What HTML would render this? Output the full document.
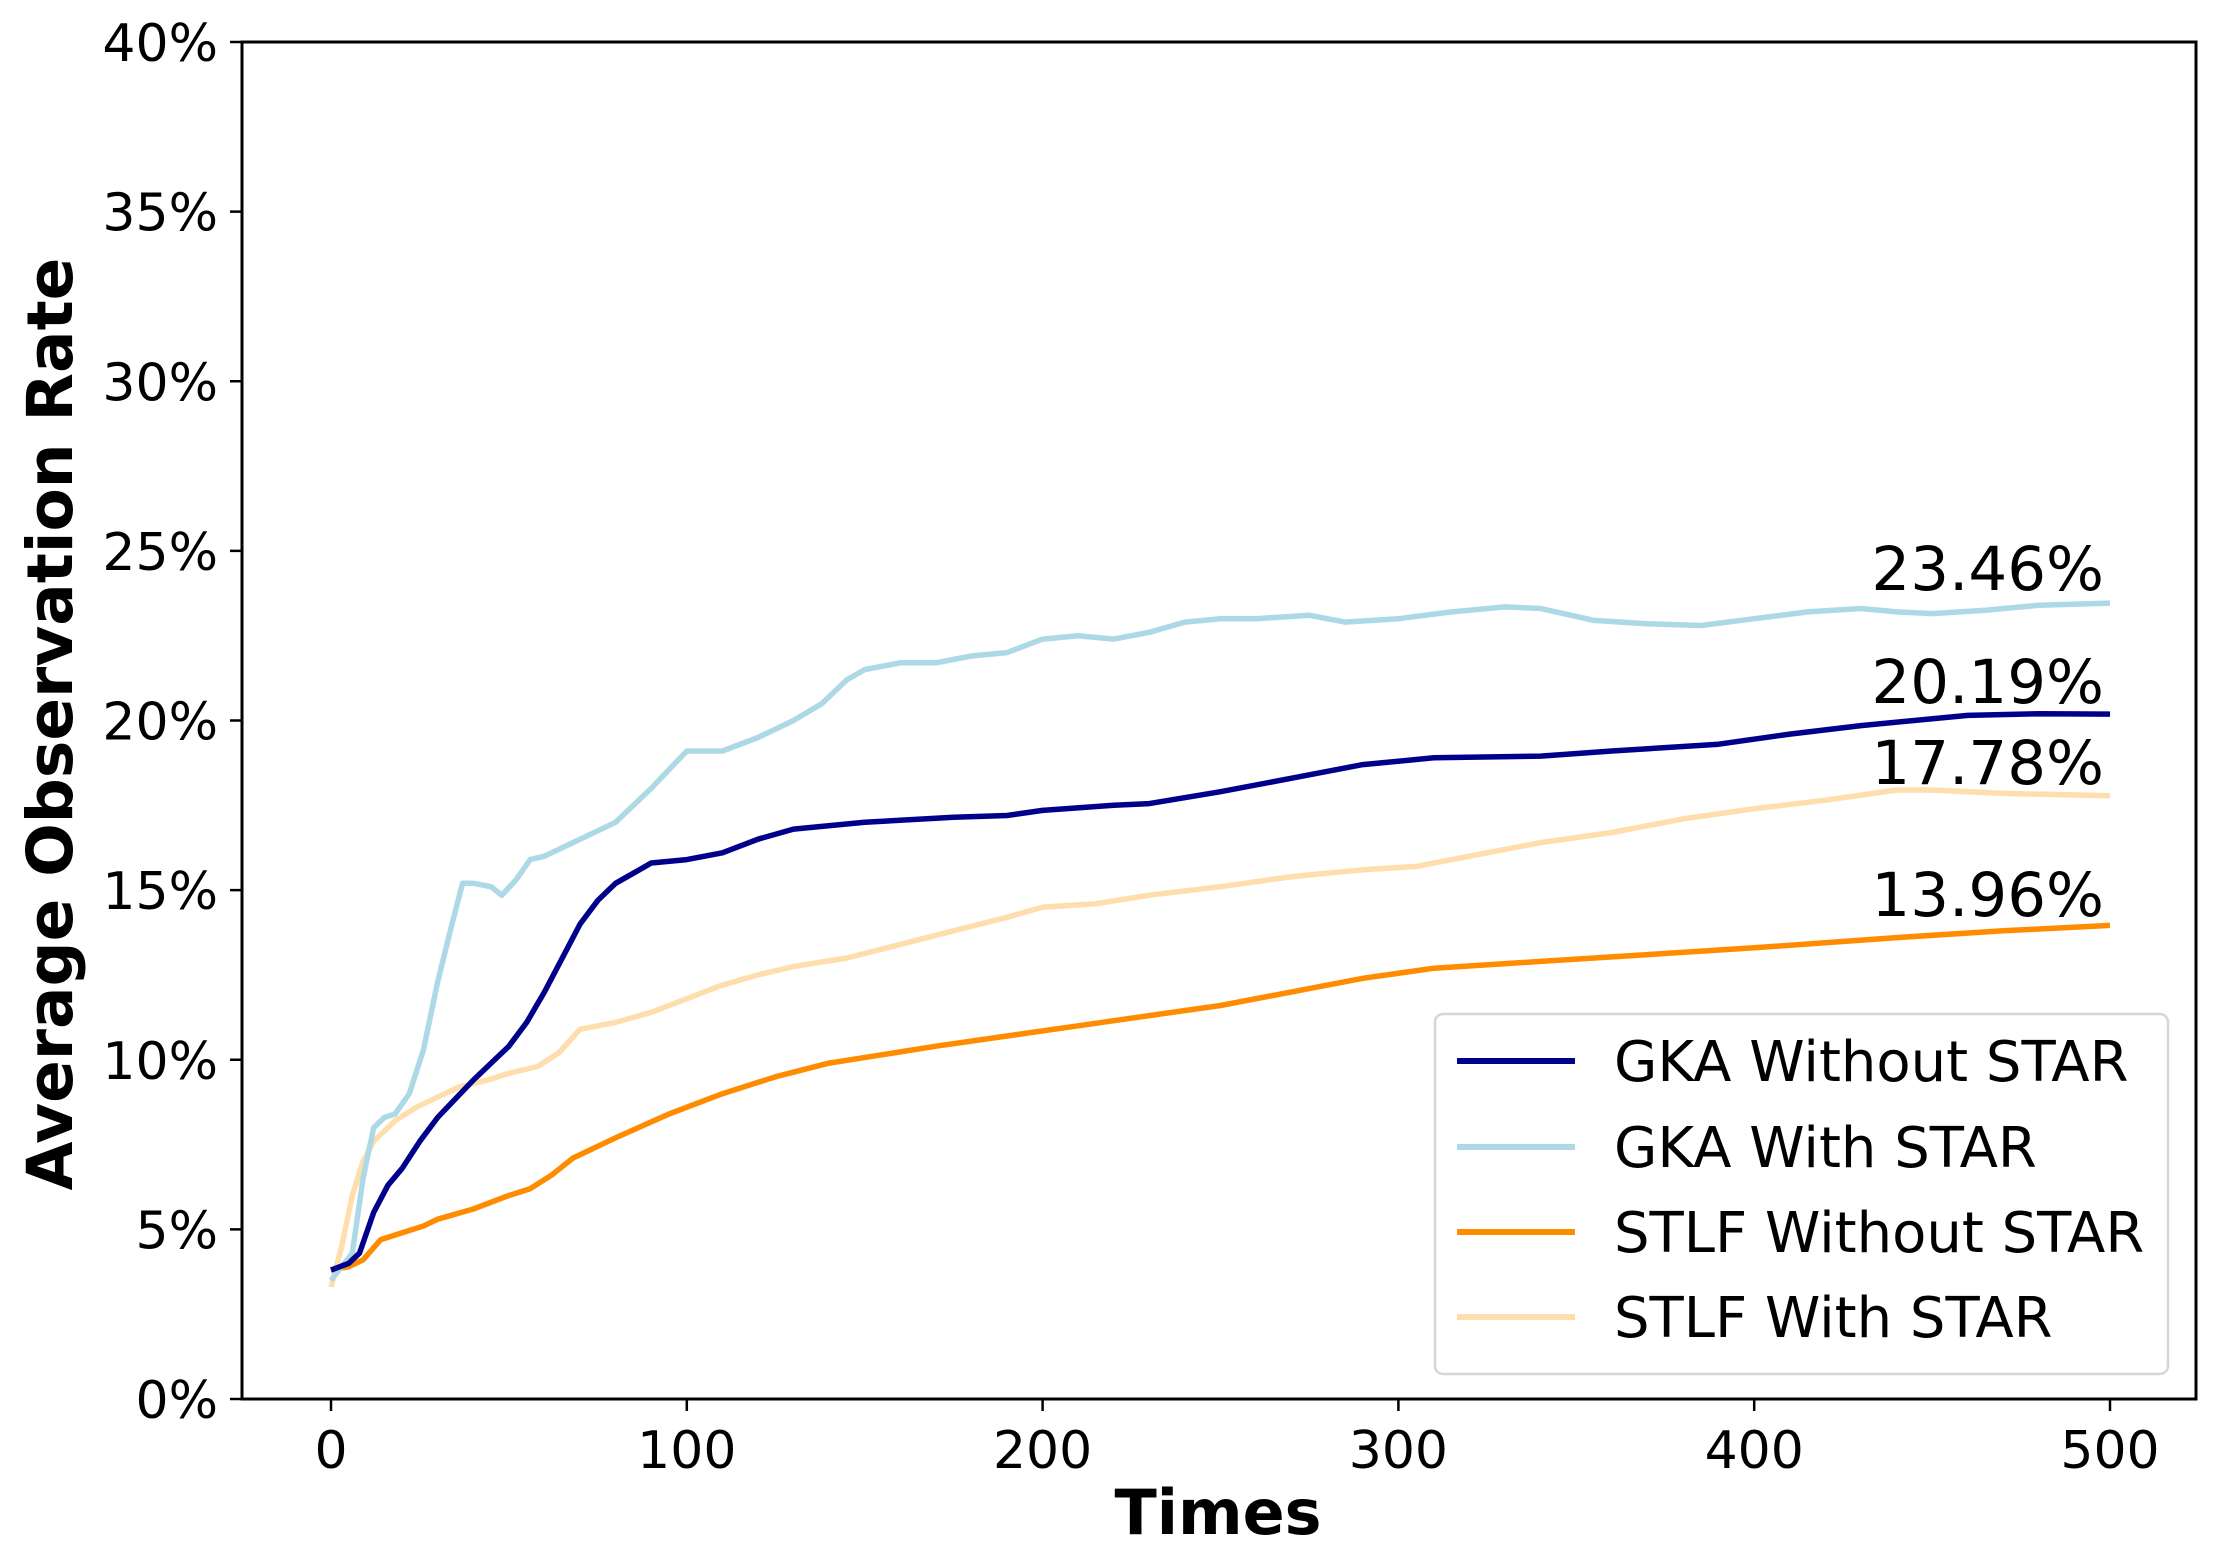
<!DOCTYPE html>
<html><head><meta charset="utf-8"><style>
html,body{margin:0;padding:0;background:#fff;}
svg{display:block;font-family:"DejaVu Sans","Liberation Sans",sans-serif;}
</style></head><body>
<svg id="chart" width="2237" height="1563" viewBox="0 0 2237 1563">
<rect x="0" y="0" width="2237" height="1563" fill="#fff"/>
<g id="plot"></g>
</svg>
<script>
const gkaWithoutX=[0,5,8,12,16,20,25,30,40,50,55,60,65,70,75,80,85,90,100,110,120,130,150,175,190,200,220,230,250,270,290,310,340,360,390,410,430,460,480,500];
const gkaWithoutY=[3.8,4.0,4.3,5.5,6.3,6.8,7.6,8.3,9.4,10.4,11.1,12.0,13.0,14.0,14.7,15.2,15.5,15.8,15.9,16.1,16.5,16.8,17.0,17.15,17.2,17.35,17.5,17.55,17.9,18.3,18.7,18.9,18.95,19.1,19.3,19.6,19.85,20.15,20.2,20.19];
const gkaWithX=[0,3,6,9,12,15,18,22,26,30,34,37,40,45,48,52,56,60,66,72,80,90,100,105,110,120,130,138,145,150,160,170,180,190,200,210,220,230,240,250,260,275,285,300,315,330,340,355,370,385,400,415,430,440,450,465,480,500];
const gkaWithY=[3.5,3.9,4.3,6.5,8.0,8.3,8.4,9.0,10.3,12.3,14.0,15.2,15.2,15.1,14.85,15.3,15.9,16.0,16.3,16.6,17.0,18.0,19.1,19.1,19.1,19.5,20.0,20.5,21.2,21.5,21.7,21.7,21.9,22.0,22.4,22.5,22.4,22.6,22.9,23.0,23.0,23.1,22.9,23.0,23.2,23.35,23.3,22.95,22.85,22.8,23.0,23.2,23.3,23.2,23.15,23.25,23.4,23.46];
const stlfWithoutX=[0,5,9,14,20,26,30,40,50,56,62,68,80,95,110,125,140,155,170,190,210,230,250,270,290,310,340,370,400,440,470,500];
const stlfWithoutY=[3.8,3.9,4.1,4.7,4.9,5.1,5.3,5.6,6.0,6.2,6.6,7.1,7.7,8.4,9.0,9.5,9.9,10.15,10.4,10.7,11.0,11.3,11.6,12.0,12.4,12.7,12.9,13.1,13.3,13.6,13.8,13.96];
const stlfWithX=[0,3,6,9,12,18,24,30,36,44,50,58,64,70,80,90,100,110,120,130,145,160,175,190,200,215,230,250,270,290,305,320,340,360,380,400,420,440,450,470,500];
const stlfWithY=[3.3,4.5,6.0,7.0,7.6,8.2,8.6,8.9,9.2,9.4,9.6,9.8,10.2,10.9,11.1,11.4,11.8,12.2,12.5,12.75,13.0,13.4,13.8,14.2,14.5,14.6,14.85,15.1,15.4,15.6,15.7,16.0,16.4,16.7,17.1,17.4,17.65,17.95,17.95,17.85,17.78];
const xTicks=[0,100,200,300,400,500];
const yTicks=[0,5,10,15,20,25,30,35,40];
const seriesNames=["GKA Without STAR","GKA With STAR","STLF Without STAR","STLF With STAR"];
const endLabels=["20.19%","23.46%","13.96%","17.78%"];

const L=242,R=2196,T=42,B=1399;
const sx=v=>331+v*(2110-331)/500;
const sy=v=>B-(v/40)*(B-T);
const NS="http://www.w3.org/2000/svg";
const g=document.getElementById('plot');
function mk(tag,attrs,parent){const e=document.createElementNS(NS,tag);for(const k in attrs)e.setAttribute(k,attrs[k]);(parent||g).appendChild(e);return e;}

const series=[
 {x:gkaWithoutX,y:gkaWithoutY,c:"#00008b",n:"line-gka-without-star",ly:703},
 {x:gkaWithX,y:gkaWithY,c:"#add8e6",n:"line-gka-with-star",ly:590},
 {x:stlfWithoutX,y:stlfWithoutY,c:"#ff8c00",n:"line-stlf-without-star",ly:916},
 {x:stlfWithX,y:stlfWithY,c:"#ffdead",n:"line-stlf-with-star",ly:784}
];
const drawOrder=[3,2,1,0];
drawOrder.forEach(i=>{
 const s=series[i];
 const d=s.x.map((v,j)=>(j?'L':'M')+sx(v).toFixed(1)+','+sy(s.y[j]).toFixed(1)).join('');
 const p=mk('path',{d:d,fill:'none',stroke:s.c,'stroke-width':5.5,'stroke-linejoin':'round'});
 
 
});
series.forEach((s,i)=>{
 const t=mk('text',{x:2104,y:s.ly,'text-anchor':'end','font-size':61,fill:'#000'});
 t.textContent=endLabels[i];
 
 
});
const fr=mk('rect',{x:L,y:T,width:R-L,height:B-T,fill:'none',stroke:'#000','stroke-width':3});


xTicks.forEach(v=>{
 mk('line',{x1:sx(v),x2:sx(v),y1:B,y2:B+12,stroke:'#000','stroke-width':2.5});
 const t=mk('text',{x:sx(v),y:1468,'text-anchor':'middle','font-size':52,fill:'#000'});
 t.textContent=v;
 
 
});
yTicks.forEach(v=>{
 mk('line',{x1:L-12,x2:L,y1:sy(v),y2:sy(v),stroke:'#000','stroke-width':2.5});
 const t=mk('text',{x:218,y:sy(v)+19,'text-anchor':'end','font-size':52,fill:'#000'});
 t.textContent=v+'%';
 
 
});
const xt=mk('text',{x:1218,y:1534,'text-anchor':'middle','font-size':62,'font-weight':'bold',fill:'#000'});
xt.textContent='Times';


const yt=mk('text',{x:0,y:0,'text-anchor':'middle','font-size':63,'font-weight':'bold',fill:'#000',transform:'translate(72,724) rotate(-90)'});
yt.textContent='Average Observation Rate';


const lg=mk('g',{});


mk('rect',{x:1435,y:1014,width:733,height:360,rx:8,fill:'#fff',stroke:'#d6d6d6','stroke-width':2.5},lg);
const ly=[1061,1147,1232,1317];
series.forEach((s,i)=>{
 mk('line',{x1:1457,x2:1575,y1:ly[i],y2:ly[i],stroke:s.c,'stroke-width':6},lg);
 const t=mk('text',{x:1614,y:ly[i]+20,'font-size':56,fill:'#000'},lg);
 t.textContent=seriesNames[i];
 
 
});
</script>
</body></html>
